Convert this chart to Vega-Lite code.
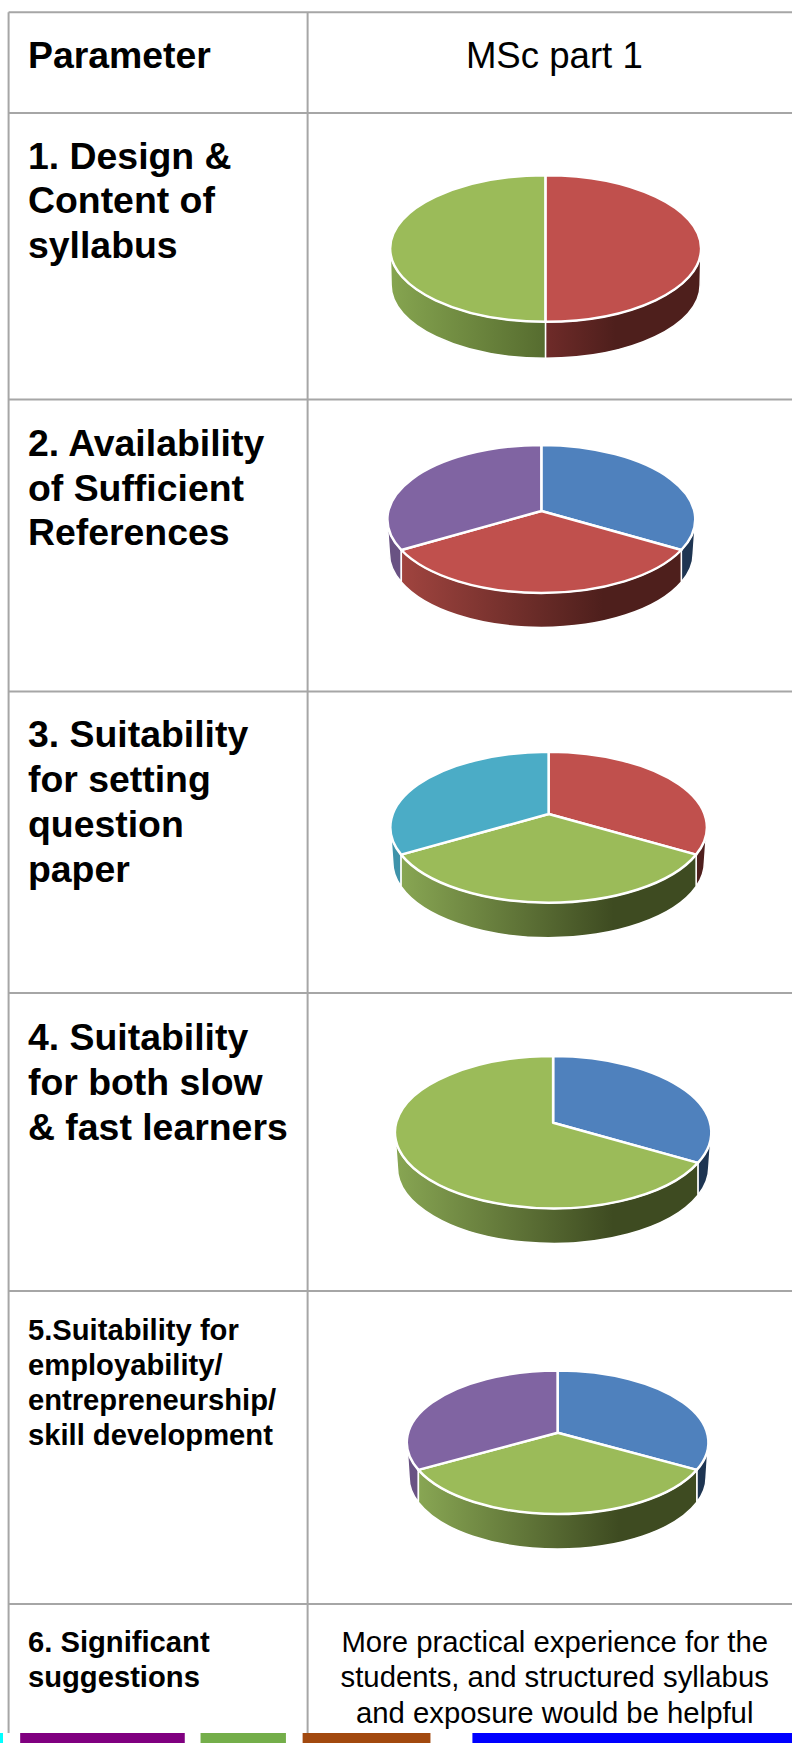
{"$schema":"https://vega.github.io/schema/vega-lite/v6.json","width":793,"height":1743,"padding":0,"autosize":{"type":"fit","contains":"padding"},"background":"white","config":{"view":{"stroke":null},"axis":{"grid":false}},
"datasets":{"faces":[
{"pie":"1. Design & Content of syllabus","face":"p1 green side","slice":"green","share":50,"px":546.3,"py":248.5},
{"pie":"1. Design & Content of syllabus","face":"p1 red side","slice":"red","share":50,"px":546.3,"py":248.5},
{"pie":"2. Availability of Sufficient References","face":"p2 navy side","slice":"navy","share":33.3,"px":542,"py":519.2},
{"pie":"2. Availability of Sufficient References","face":"p2 purple side","slice":"purple side","share":33.3,"px":542,"py":519.2},
{"pie":"2. Availability of Sufficient References","face":"p2 red side","slice":"red","share":33.3,"px":542,"py":519.2},
{"pie":"3. Suitability for setting question paper","face":"p3 dark red side","slice":"dark red","share":33.3,"px":549.3,"py":827.2},
{"pie":"3. Suitability for setting question paper","face":"p3 teal side","slice":"teal side","share":33.3,"px":549.3,"py":827.2},
{"pie":"3. Suitability for setting question paper","face":"p3 green side","slice":"green","share":33.3,"px":549.3,"py":827.2},
{"pie":"4. Suitability for both slow & fast learners","face":"p4 navy side","slice":"navy","share":33.3,"px":553.8,"py":1132.2},
{"pie":"4. Suitability for both slow & fast learners","face":"p4 green side","slice":"green","share":66.7,"px":553.8,"py":1132.2},
{"pie":"5.Suitability for employability/ entrepreneurship/ skill development","face":"p5 navy side","slice":"navy","share":33.3,"px":558.3,"py":1442.3},
{"pie":"5.Suitability for employability/ entrepreneurship/ skill development","face":"p5 purple side","slice":"purple side","share":33.3,"px":558.3,"py":1442.3},
{"pie":"5.Suitability for employability/ entrepreneurship/ skill development","face":"p5 green side","slice":"green","share":33.3,"px":558.3,"py":1442.3},
{"pie":"1. Design & Content of syllabus","face":"p1 green","slice":"top green","share":50,"px":546.3,"py":248.5},
{"pie":"1. Design & Content of syllabus","face":"p1 red","slice":"top red","share":50,"px":546.3,"py":248.5},
{"pie":"2. Availability of Sufficient References","face":"p2 blue","slice":"top blue","share":33.3,"px":542,"py":519.2},
{"pie":"2. Availability of Sufficient References","face":"p2 red","slice":"top red","share":33.3,"px":542,"py":519.2},
{"pie":"2. Availability of Sufficient References","face":"p2 purple","slice":"top purple","share":33.3,"px":542,"py":519.2},
{"pie":"3. Suitability for setting question paper","face":"p3 red","slice":"top red","share":33.3,"px":549.3,"py":827.2},
{"pie":"3. Suitability for setting question paper","face":"p3 green","slice":"top green","share":33.3,"px":549.3,"py":827.2},
{"pie":"3. Suitability for setting question paper","face":"p3 teal","slice":"top teal","share":33.3,"px":549.3,"py":827.2},
{"pie":"4. Suitability for both slow & fast learners","face":"p4 blue","slice":"top blue","share":33.3,"px":553.8,"py":1132.2},
{"pie":"4. Suitability for both slow & fast learners","face":"p4 green","slice":"top green","share":66.7,"px":553.8,"py":1132.2},
{"pie":"5.Suitability for employability/ entrepreneurship/ skill development","face":"p5 blue","slice":"top blue","share":33.3,"px":558.3,"py":1442.3},
{"pie":"5.Suitability for employability/ entrepreneurship/ skill development","face":"p5 green","slice":"top green","share":33.3,"px":558.3,"py":1442.3},
{"pie":"5.Suitability for employability/ entrepreneurship/ skill development","face":"p5 purple","slice":"top purple","share":33.3,"px":558.3,"py":1442.3}
]},
"layer":[
{"data":{"values":[
{"a":8.6,"b":793,"c":12.3,"d":12.3},{"a":8.6,"b":793,"c":113,"d":113},{"a":8.6,"b":793,"c":399.5,"d":399.5},{"a":8.6,"b":793,"c":691.5,"d":691.5},{"a":8.6,"b":793,"c":993,"d":993},{"a":8.6,"b":793,"c":1291,"d":1291},{"a":8.6,"b":793,"c":1604,"d":1604},
{"a":8.6,"b":8.6,"c":12.3,"d":1733},{"a":308,"b":308,"c":12.3,"d":1733}]},
"mark":{"type":"rule","color":"#a6a6a6","strokeWidth":2},
"encoding":{"x":{"field":"a","type":"quantitative","axis":null,"scale":{"domain":[0,793],"nice":false,"zero":false}},"x2":{"field":"b"},"y":{"field":"c","type":"quantitative","axis":null,"scale":{"domain":[1743,0],"nice":false,"zero":false}},"y2":{"field":"d"}}},
{"data":{"values":[
{"a":0,"b":3,"name":"cyan"},{"a":20.2,"b":185,"name":"magenta"},{"a":200.8,"b":286.3,"name":"leaf"},{"a":303,"b":431,"name":"brown"},{"a":473,"b":793,"name":"pure blue"}]},
"mark":{"type":"rect"},
"encoding":{"x":{"field":"a","type":"quantitative"},"x2":{"field":"b"},"y":{"datum":1733,"type":"quantitative"},"y2":{"datum":1743},
"color":{"field":"name","type":"nominal","legend":null,"scale":{"domain":["cyan","magenta","leaf","brown","pure blue","top red","top green","top blue","top purple","top teal","navy","purple side","teal side","dark red","green","red"],"range":["#00ffff","#800080","#74ae4a","#a2490f","#0000ff","#c0504d","#9bbb59","#4f81bd","#8064a2","#4bacc6","#1e3552","#695283","#3f93aa","#4f1f1d","#6d8a3f","#6f2b29"]}}}},
{"data":{"name":"faces"},"transform":[{"filter":{"field":"face","oneOf":["p2 navy side","p2 purple side","p3 dark red side","p3 teal side","p4 navy side","p5 navy side","p5 purple side"]}}],
"mark":{"type":"point","filled":true,"opacity":1,"size":4,"stroke":"white","strokeWidth":1.5},
"encoding":{"x":{"field":"px","type":"quantitative"},"y":{"field":"py","type":"quantitative"},"color":{"field":"slice","type":"nominal","legend":null},
"shape":{"field":"face","type":"nominal","legend":null,"scale":{"domain":[
"p1 green side","p1 red side","p2 navy side","p2 purple side","p2 red side","p3 dark red side","p3 teal side","p3 green side","p4 navy side","p4 green side","p5 navy side","p5 purple side","p5 green side",
"p1 green","p1 red","p2 blue","p2 red","p2 purple","p3 red","p3 green","p3 teal","p4 blue","p4 green","p5 blue","p5 green","p5 purple"],"range":[
"M-155.5,0L-155,16L-154.5,36.5A154.5,73.2 0 0 0 0,109.7L0,73.2A155.5,73.2 0 0 1 -155.5,0Z",
"M155.5,0L155,16L154.5,36.5A154.5,73.2 0 0 1 0,109.7L0,73.2A155.5,73.2 0 0 0 155.5,0Z",
"M140,30.8L140,62.8A151.9,74.2 0 0 0 151.9,34L154.3,0A154.3,74.2 0 0 1 140,30.8Z",
"M-140,30.8L-140,62.8A151.9,74.2 0 0 1 -151.9,34L-154.3,0A154.3,74.2 0 0 0 -140,30.8Z",
"M-140,30.8L-140,62.8A151.9,74.2 0 0 0 140,62.8L140,30.8A154.3,74.2 0 0 1 -140,30.8Z",
"M147.5,27.4L147.5,59.3A155.8,75.5 0 0 0 155.8,35L158.3,0A158.3,75.5 0 0 1 147.5,27.4Z",
"M-147.5,27.4L-147.5,59.3A155.8,75.5 0 0 1 -155.8,35L-158.3,0A158.3,75.5 0 0 0 -147.5,27.4Z",
"M-147.5,27.4L-147.5,59.3A155.8,75.5 0 0 0 147.5,59.3L147.5,27.4A158.3,75.5 0 0 1 -147.5,27.4Z",
"M144.8,30.7L144.8,63A155.7,76.2 0 0 0 155.7,35L158.2,0A158.2,76.2 0 0 1 144.8,30.7Z",
"M144.8,30.7L144.8,63A155.7,76.2 0 0 1 -155.7,35L-158.2,0A158.2,76.2 0 0 0 144.8,30.7Z",
"M139.2,27.6L139.2,60A148.5,71.7 0 0 0 148.5,35L150.8,0A150.8,71.7 0 0 1 139.2,27.6Z",
"M-139.2,27.6L-139.2,60A148.5,71.7 0 0 1 -148.5,35L-150.8,0A150.8,71.7 0 0 0 -139.2,27.6Z",
"M-139.2,27.6L-139.2,60A148.5,71.7 0 0 0 139.2,60L139.2,27.6A150.8,71.7 0 0 1 -139.2,27.6Z",
"M0,73.2A155.5,73.2 0 0 1 0,-73.2Z",
"M0,-73.2A155.5,73.2 0 0 1 0,73.2Z",
"M0,-8.2L0,-74.2A154.3,74.2 0 0 1 140,30.8Z",
"M0,-8.2L140,30.8A154.3,74.2 0 0 1 -140,30.8Z",
"M0,-8.2L-140,30.8A154.3,74.2 0 0 1 0,-74.2Z",
"M0,-13.2L0,-75.5A158.3,75.5 0 0 1 147.5,27.4Z",
"M0,-13.2L147.5,27.4A158.3,75.5 0 0 1 -147.5,27.4Z",
"M0,-13.2L-147.5,27.4A158.3,75.5 0 0 1 0,-75.5Z",
"M0,-9.5L0,-76.2A158.2,76.2 0 0 1 144.8,30.7Z",
"M0,-9.5L144.8,30.7A158.2,76.2 0 1 1 0,-76.2Z",
"M0,-9.6L0,-71.7A150.8,71.7 0 0 1 139.2,27.6Z",
"M0,-9.6L139.2,27.6A150.8,71.7 0 0 1 -139.2,27.6Z",
"M0,-9.6L-139.2,27.6A150.8,71.7 0 0 1 0,-71.7Z"]}}}},
{"data":{"name":"faces"},"transform":[{"filter":{"field":"face","oneOf":["p1 green side"]}}],
"mark":{"type":"point","filled":true,"opacity":1,"size":4,"stroke":"white","strokeWidth":1.5,"fill":{"gradient":"linear","x1":0,"x2":1,"y1":0,"y2":0,"stops":[{"offset":0,"color":"#86a550"},{"offset":1,"color":"#566c2f"}]}},
"encoding":{"x":{"field":"px","type":"quantitative"},"y":{"field":"py","type":"quantitative"},"shape":{"field":"face","type":"nominal","legend":null}}},
{"data":{"name":"faces"},"transform":[{"filter":{"field":"face","oneOf":["p1 red side"]}}],
"mark":{"type":"point","filled":true,"opacity":1,"size":4,"stroke":"white","strokeWidth":1.5,"fill":{"gradient":"linear","x1":0,"x2":1,"y1":0,"y2":0,"stops":[{"offset":0,"color":"#6f2b29"},{"offset":0.45,"color":"#4e1f1c"},{"offset":1,"color":"#4e1f1c"}]}},
"encoding":{"x":{"field":"px","type":"quantitative"},"y":{"field":"py","type":"quantitative"},"shape":{"field":"face","type":"nominal","legend":null}}},
{"data":{"name":"faces"},"transform":[{"filter":{"field":"face","oneOf":["p2 red side"]}}],
"mark":{"type":"point","filled":true,"opacity":1,"size":4,"stroke":"white","strokeWidth":1.5,"fill":{"gradient":"linear","x1":0,"x2":1,"y1":0,"y2":0,"stops":[{"offset":0,"color":"#a0443f"},{"offset":0.72,"color":"#4e1f1c"},{"offset":1,"color":"#4e1f1c"}]}},
"encoding":{"x":{"field":"px","type":"quantitative"},"y":{"field":"py","type":"quantitative"},"shape":{"field":"face","type":"nominal","legend":null}}},
{"data":{"name":"faces"},"transform":[{"filter":{"field":"face","oneOf":["p3 green side","p4 green side","p5 green side"]}}],
"mark":{"type":"point","filled":true,"opacity":1,"size":4,"stroke":"white","strokeWidth":1.5,"fill":{"gradient":"linear","x1":0,"x2":1,"y1":0,"y2":0,"stops":[{"offset":0,"color":"#88a653"},{"offset":0.72,"color":"#3e4b21"},{"offset":1,"color":"#3e4b21"}]}},
"encoding":{"x":{"field":"px","type":"quantitative"},"y":{"field":"py","type":"quantitative"},"shape":{"field":"face","type":"nominal","legend":null}}},
{"data":{"name":"faces"},"transform":[{"filter":{"field":"slice","oneOf":["top red","top green","top blue","top purple","top teal"]}}],
"mark":{"type":"point","filled":true,"opacity":1,"size":4,"stroke":"white","strokeWidth":2.5,"strokeJoin":"round"},
"encoding":{"x":{"field":"px","type":"quantitative"},"y":{"field":"py","type":"quantitative"},"color":{"field":"slice","type":"nominal","legend":null},"shape":{"field":"face","type":"nominal","legend":null}}},
{"data":{"values":[
{"t":"Parameter","px":28,"py":67.7},{"t":"1. Design &","px":28,"py":169},{"t":"Content of","px":28,"py":213},{"t":"syllabus","px":28,"py":258},
{"t":"2. Availability","px":28,"py":456},{"t":"of Sufficient","px":28,"py":500.5},{"t":"References","px":28,"py":545},
{"t":"3. Suitability","px":28,"py":747},{"t":"for setting","px":28,"py":792},{"t":"question","px":28,"py":837},{"t":"paper","px":28,"py":882},
{"t":"4. Suitability","px":28,"py":1049.5},{"t":"for both slow","px":28,"py":1094.5},{"t":"& fast learners","px":28,"py":1139.5}]},
"mark":{"type":"text","font":"Liberation Sans","fontWeight":"bold","fontSize":37.4,"align":"left","baseline":"alphabetic","color":"black"},
"encoding":{"x":{"field":"px","type":"quantitative"},"y":{"field":"py","type":"quantitative"},"text":{"field":"t"}}},
{"data":{"values":[
{"t":"5.Suitability for","px":28,"py":1340},{"t":"employability/","px":28,"py":1375},{"t":"entrepreneurship/","px":28,"py":1410},{"t":"skill development","px":28,"py":1445},
{"t":"6. Significant","px":28,"py":1651.7},{"t":"suggestions","px":28,"py":1687}]},
"mark":{"type":"text","font":"Liberation Sans","fontWeight":"bold","fontSize":29.2,"align":"left","baseline":"alphabetic","color":"black"},
"encoding":{"x":{"field":"px","type":"quantitative"},"y":{"field":"py","type":"quantitative"},"text":{"field":"t"}}},
{"data":{"values":[{"t":"MSc part 1","px":555,"py":67.7}]},
"mark":{"type":"text","font":"Liberation Sans","fontSize":36.6,"align":"center","baseline":"alphabetic","color":"black"},
"encoding":{"x":{"field":"px","type":"quantitative"},"y":{"field":"py","type":"quantitative"},"text":{"field":"t"}}},
{"data":{"values":[{"t":"More practical experience for the","px":555.4,"py":1651.7},{"t":"students, and structured syllabus","px":555.4,"py":1687},{"t":"and exposure would be helpful","px":555.4,"py":1722.7}]},
"mark":{"type":"text","font":"Liberation Sans","fontSize":29.3,"align":"center","baseline":"alphabetic","color":"black"},
"encoding":{"x":{"field":"px","type":"quantitative"},"y":{"field":"py","type":"quantitative"},"text":{"field":"t"}}}
]}
